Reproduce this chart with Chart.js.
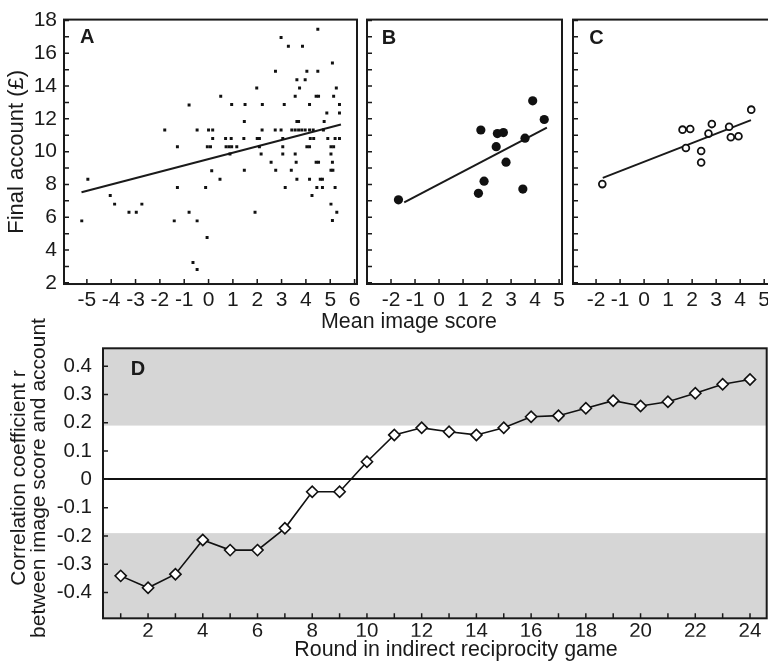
<!DOCTYPE html>
<html>
<head>
<meta charset="utf-8">
<script src="https://cdn.jsdelivr.net/npm/chart.js@4.4.1/dist/chart.umd.min.js"></script>
<style>
  html, body { margin: 0; padding: 0; background: #fff; overflow: hidden; }
  #wrap { position: relative; width: 768px; height: 669px; overflow: hidden; background: #fff; }
  canvas { position: absolute; }
</style>
</head>
<body>
<div id="wrap">
  <canvas id="panelD" width="912" height="382" style="left:0;top:287px"></canvas>
  <canvas id="panelA" width="818" height="338" style="left:0;top:0"></canvas>
  <canvas id="panelB" width="212" height="312" style="left:360px;top:0"></canvas>
  <canvas id="panelC" width="240" height="312" style="left:566px;top:0"></canvas>
</div>
<script>
// ---- data ----
// A: all players, mean image score vs final account
var scoreA = [
  -5.21, -4.96, -4.04, -3.86, -3.27, -2.97, -2.74, -1.80, -1.28, -1.28,
  -1.41, -0.80, -0.80, -0.47, -0.47, -0.64, -0.47, -0.12, -0.06, 0.00,
  0.17, -0.05, 0.08, 0.17, 0.13, 0.47, 0.50,
  4.49, 2.98, 3.28, 3.86, 5.09, 2.75, 4.04, 4.49, 3.63, 3.97,
  1.98, 3.74, 5.25, 3.56, 4.42, 4.52, 5.14, 0.95, 1.50, 2.21,
  3.11, 4.15, 5.38, 4.86, 5.38, 1.47, 3.63, 3.70, 4.75,
  2.20, 2.74, 2.98, 3.42, 3.56, 3.70, 3.83, 3.97, 4.15, 4.30, 4.72,
  0.70, 0.93, 1.45, 2.00, 2.09, 3.05, 4.18, 4.32, 4.90, 5.20, 5.38,
  0.72, 0.84, 0.95, 1.16, 2.09, 3.05, 4.04, 4.15, 5.03, 5.14,
  0.88, 2.16, 3.05, 3.56, 5.03,
  2.57, 3.60, 4.42, 4.52, 5.09,
  1.47, 2.76, 3.40, 5.03, 5.11,
  3.63, 4.15, 4.59, 4.68,
  3.15, 4.45, 4.68, 5.20,
  4.25, 5.03, 1.91, 5.27, 5.09
];
var accountA = [
  5.78, 8.32, 7.32, 6.80, 6.30, 6.30, 6.80, 11.32, 10.30, 7.82,
  5.78, 12.84, 6.30, 11.32, 5.78, 3.24, 2.82, 7.82, 4.76, 11.32,
  11.32, 10.30, 10.30, 10.80, 8.84, 8.32, 13.38,
  17.46, 16.96, 16.42, 16.42, 15.40, 14.90, 14.90, 14.90, 14.38, 14.38,
  13.88, 13.88, 13.88, 13.38, 13.38, 13.38, 13.38, 12.88, 12.88, 12.88,
  12.88, 12.88, 12.88, 12.36, 12.36, 11.84, 11.84, 11.84, 11.84,
  11.32, 11.32, 11.32, 11.32, 11.32, 11.32, 11.32, 11.32, 11.32, 11.32, 11.32,
  10.80, 10.80, 10.80, 10.80, 10.80, 10.80, 10.80, 10.80, 10.80, 10.80, 10.80,
  10.30, 10.30, 10.30, 10.30, 10.30, 10.30, 10.30, 10.30, 10.30, 10.30,
  9.86, 9.86, 9.86, 9.86, 9.86,
  9.36, 9.36, 9.36, 9.36, 9.36,
  8.86, 8.86, 8.86, 8.86, 8.86,
  8.32, 8.32, 8.32, 8.32,
  7.82, 7.82, 7.82, 7.82,
  7.32, 6.80, 6.30, 6.30, 5.80
];
var fitScoreA = [-5.22, 5.44];
var fitAccountA = [7.52, 11.66];

// B: filled circles
var scoreB = [-1.69, 1.64, 1.875, 1.74, 2.43, 2.68, 2.38, 2.79, 3.58, 3.49, 3.90, 4.38];
var accountB = [7.06, 7.46, 8.20, 11.32, 11.10, 11.16, 10.30, 9.36, 10.82, 7.72, 13.10, 11.96];
var fitScoreB = [-1.45, 4.49];
var fitAccountB = [6.90, 11.46];

// C: open circles
var scoreC = [-1.74, 1.60, 1.92, 1.74, 2.375, 2.375, 2.68, 2.82, 3.54, 3.61, 3.93, 4.46];
var accountC = [8.02, 11.34, 11.38, 10.22, 10.04, 9.34, 11.10, 11.68, 11.52, 10.88, 10.94, 12.56];
var fitScoreC = [-1.72, 4.45];
var fitAccountC = [8.40, 11.92];

// D: correlation per round
var rounds = [1, 2, 3, 4, 5, 6, 7, 8, 9, 10, 11, 12, 13, 14, 15, 16, 17, 18, 19, 20, 21, 22, 23, 24];
var corrD = [-0.341, -0.383, -0.335, -0.214, -0.250, -0.250, -0.173, -0.044, -0.044, 0.062,
             0.157, 0.182, 0.168, 0.157, 0.182, 0.221, 0.225, 0.251, 0.278, 0.259,
             0.274, 0.304, 0.336, 0.353];
var bandLimits = [-0.19, 0.19];

// tick values
var xTicksA = [-5, -4, -3, -2, -1, 0, 1, 2, 3, 4, 5, 6];
var xTicksBC = [-2, -1, 0, 1, 2, 3, 4, 5];
var yTicksABC = [2, 3, 4, 5, 6, 7, 8, 9, 10, 11, 12, 13, 14, 15, 16, 17, 18];
var yTicksD = [-0.4, -0.3, -0.2, -0.1, 0, 0.1, 0.2, 0.3, 0.4];

// ---- styling ----
var ink = '#1a1a1a';
Chart.defaults.font.family = '"Liberation Sans", Arial, Helvetica, sans-serif';
Chart.defaults.color = ink;
Chart.defaults.animation = false;

function pairs(xs, ys) {
  return xs.map(function (x, i) { return { x: x, y: ys[i] }; });
}

function setTicks(list) {
  return function (s) { s.ticks = list.map(function (v) { return { value: v }; }); };
}

function spacer(pos, size) {
  var s = { position: pos, display: true, grid: { display: false, drawTicks: false },
            border: { display: false }, ticks: { display: false } };
  if (pos === 'top' || pos === 'bottom') s.afterFit = function (a) { a.height = size; };
  else s.afterFit = function (a) { a.width = size; };
  return s;
}

var noGrid = { display: false, drawTicks: false };

// box outline + short tick marks pointing inward
var framePlugin = {
  id: 'frame',
  beforeDatasetsDraw: function (chart) {
    var ctx = chart.ctx, a = chart.chartArea, sx = chart.scales.x, sy = chart.scales.y;
    ctx.save();
    ctx.strokeStyle = ink;
    ctx.lineWidth = 1.5;
    ctx.beginPath();
    sx.ticks.forEach(function (t) {
      var p = sx.getPixelForValue(t.value);
      ctx.moveTo(p, a.bottom);
      ctx.lineTo(p, a.bottom - 5);
    });
    sy.ticks.forEach(function (t) {
      var p = sy.getPixelForValue(t.value);
      ctx.moveTo(a.left, p);
      ctx.lineTo(a.left + 5, p);
    });
    ctx.stroke();
    ctx.lineWidth = 2;
    ctx.strokeRect(a.left, a.top, a.right - a.left, a.bottom - a.top);
    ctx.restore();
  }
};

var letterPlugin = {
  id: 'letter',
  afterDatasetsDraw: function (chart, args, o) {
    var ctx = chart.ctx, a = chart.chartArea;
    ctx.save();
    ctx.font = 'bold 20px "Liberation Sans", Arial, sans-serif';
    ctx.fillStyle = ink;
    ctx.textBaseline = 'alphabetic';
    ctx.fillText(o.text, a.left + o.dx, a.top + o.dy);
    ctx.restore();
  }
};

var bandPlugin = {
  id: 'bands',
  beforeDraw: function (chart) {
    var ctx = chart.ctx, a = chart.chartArea, y = chart.scales.y;
    var lo = y.getPixelForValue(bandLimits[0]);
    var hi = y.getPixelForValue(bandLimits[1]);
    ctx.save();
    ctx.fillStyle = '#d6d6d6';
    ctx.fillRect(a.left, a.top, a.right - a.left, hi - a.top);
    ctx.fillRect(a.left, lo, a.right - a.left, a.bottom - lo);
    ctx.restore();
  }
};

function scatterPanel(id, pts, fit, pointOpts, xRange, xTicks, showLabels, extra) {
  var scales = {
    x: {
      type: 'linear', min: xRange[0], max: xRange[1], bounds: 'data',
      border: { display: false }, grid: noGrid,
      afterBuildTicks: setTicks(xTicks),
      ticks: { autoSkip: false, maxRotation: 0, minRotation: 0, padding: 4, font: { size: 21 },
               callback: function (v) { return v; } },
      afterFit: function (s) { s.height = extra.xHeight; }
    },
    y: {
      type: 'linear', min: 1.93, max: 18.05, bounds: 'data',
      border: { display: false }, grid: noGrid,
      afterBuildTicks: setTicks(yTicksABC),
      ticks: { autoSkip: false, padding: 7, font: { size: 21 },
               callback: function (v) { return (showLabels && v % 2 === 0) ? v : ''; } },
      title: extra.yTitle || { display: false },
      afterFit: function (s) { s.width = extra.yWidth; }
    }
  };
  if (extra.rightSpace) scales.yR = spacer('right', extra.rightSpace);

  return new Chart(document.getElementById(id), {
    type: 'scatter',
    data: {
      datasets: [
        Object.assign({ data: pts, xAxisID: 'x', yAxisID: 'y' }, pointOpts),
        { data: fit, showLine: true, borderColor: ink, borderWidth: 2, pointRadius: 0,
          xAxisID: 'x', yAxisID: 'y' }
      ]
    },
    options: {
      responsive: false,
      layout: { padding: extra.padding },
      scales: scales,
      plugins: {
        legend: { display: false },
        tooltip: { enabled: false },
        title: extra.title || { display: false },
        letter: extra.letter
      }
    },
    plugins: [framePlugin, letterPlugin]
  });
}

// panel A (also carries the shared "Mean image score" label)
scatterPanel('panelA', pairs(scoreA, accountA), pairs(fitScoreA, fitAccountA),
  { pointStyle: 'rect', pointRadius: 2.1, pointBackgroundColor: '#111', pointBorderWidth: 0 },
  [-5.94, 6.1], xTicksA, true,
  {
    xHeight: 25.7, yWidth: 64, rightSpace: 461,
    padding: { top: 15, right: 0, left: 0, bottom: 0 },
    yTitle: { display: true, text: 'Final account (£)', font: { size: 22 }, padding: { top: 4.2, bottom: 0 } },
    title: { display: true, position: 'bottom', fullSize: true, text: 'Mean image score',
             font: { size: 21.4, weight: 'normal' }, color: ink, padding: { top: 0, bottom: 2.6 } },
    letter: { text: 'A', dx: 16, dy: 23 }
  });

scatterPanel('panelB', pairs(scoreB, accountB), pairs(fitScoreB, fitAccountB),
  { pointStyle: 'circle', pointRadius: 4.6, pointBackgroundColor: '#111', pointBorderWidth: 0 },
  [-3.0, 5.12], xTicksBC, false,
  {
    xHeight: 28, yWidth: 7,
    padding: { top: 15, right: 10, left: 0, bottom: 0 },
    letter: { text: 'B', dx: 14.7, dy: 24 }
  });

scatterPanel('panelC', pairs(scoreC, accountC), pairs(fitScoreC, fitAccountC),
  { pointStyle: 'circle', pointRadius: 3.4, pointBackgroundColor: '#fff', pointBorderColor: '#111', pointBorderWidth: 1.8 },
  [-2.96, 5.2], xTicksBC, false,
  {
    xHeight: 28, yWidth: 7,
    padding: { top: 15, right: 37, left: 0, bottom: 0 },
    letter: { text: 'C', dx: 16.3, dy: 24 }
  });

// panel D
new Chart(document.getElementById('panelD'), {
  type: 'line',
  data: {
    datasets: [{
      data: pairs(rounds, corrD), xAxisID: 'x', yAxisID: 'y',
      borderColor: '#111', borderWidth: 1.6, tension: 0,
      pointStyle: 'rectRot', pointRadius: 5.6,
      pointBackgroundColor: '#fff', pointBorderColor: '#111', pointBorderWidth: 1.6
    }]
  },
  options: {
    responsive: false,
    layout: { padding: 0 },
    scales: {
      x: {
        type: 'linear', min: 0.353, max: 24.61, bounds: 'data',
        border: { display: false }, grid: noGrid,
        afterBuildTicks: setTicks(rounds),
        ticks: { autoSkip: false, maxRotation: 0, minRotation: 0, padding: 0.6, font: { size: 20.5 },
                 callback: function (v) { return v % 2 === 0 ? v : ''; } },
        afterFit: function (s) { s.height = 18.5; }
      },
      xTop: spacer('top', 61.3),
      y: {
        type: 'linear', min: -0.491, max: 0.463, bounds: 'data',
        border: { display: false },
        grid: {
          display: true, drawOnChartArea: true, drawTicks: false, lineWidth: 2,
          color: function (c) { return (c.tick && c.tick.value === 0) ? '#111' : 'rgba(0,0,0,0)'; }
        },
        afterBuildTicks: setTicks(yTicksD),
        ticks: { autoSkip: false, padding: 11, font: { size: 20.5 },
                 callback: function (v) { return String(v); } },
        afterFit: function (s) { s.width = 53.7; }
      },
      yR: spacer('right', 145.3)
    },
    plugins: {
      legend: { display: false },
      tooltip: { enabled: false },
      title: {
        display: true, position: 'left', fullSize: true, align: 'center',
        text: ['Correlation coefficient r', 'between image score and account'],
        font: { size: 21, weight: 'normal', lineHeight: 0.95 }, color: ink,
        padding: { top: 9.4, bottom: 0 }
      },
      subtitle: {
        display: true, position: 'bottom', fullSize: true,
        text: 'Round in indirect reciprocity game',
        font: { size: 21.4, weight: 'normal' }, color: ink,
        padding: { top: 0, bottom: 6.5 }
      },
      letter: { text: 'D', dx: 27.7, dy: 26.7 }
    }
  },
  plugins: [bandPlugin, framePlugin, letterPlugin]
});
</script>
</body>
</html>
